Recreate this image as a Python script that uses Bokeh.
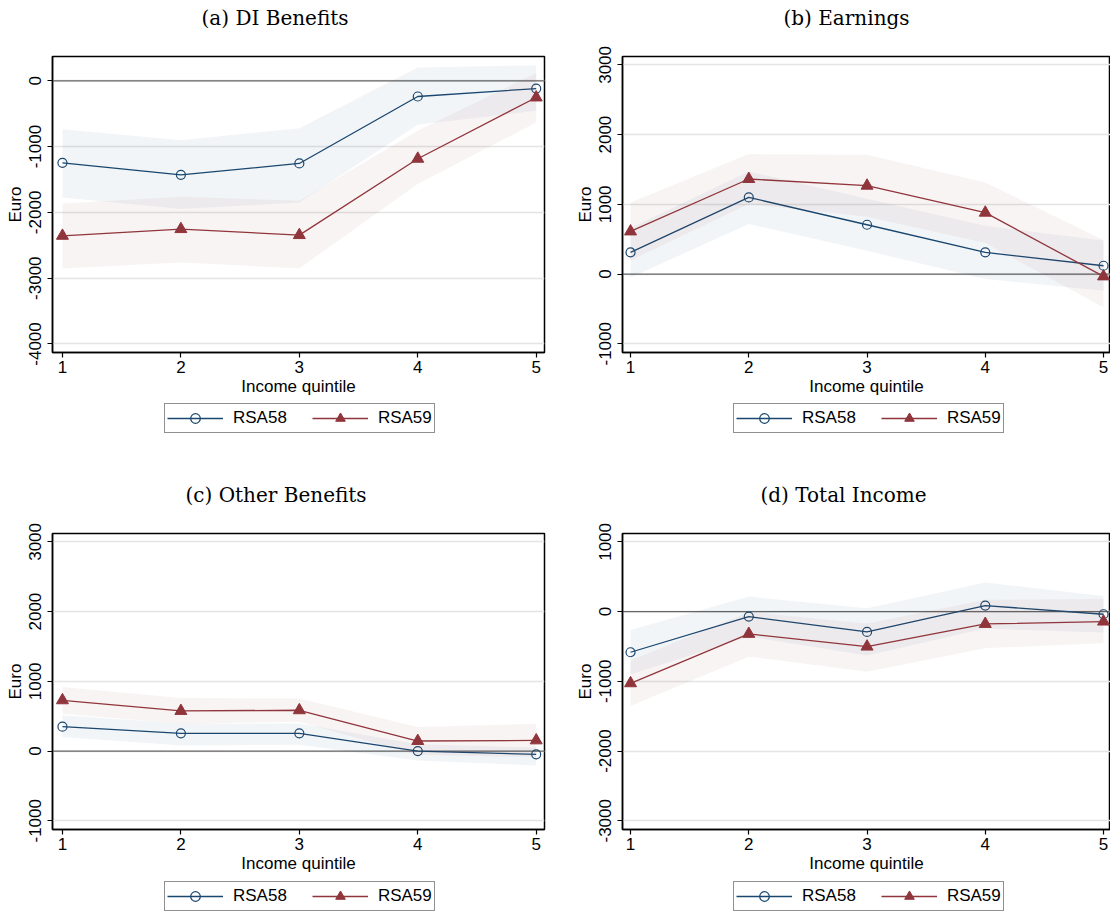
import math
from bokeh.plotting import figure
from bokeh.models import (Legend, LegendItem, Span, Range1d, ColumnDataSource, Title,
                          PrintfTickFormatter)
from bokeh.layouts import column, row
from bokeh.embed import file_html
from bokeh.resources import INLINE

NAVY = "#1a476f"
MAROON = "#90353b"
SANS = "Liberation Sans"
SERIF = "DejaVu Serif"

quintiles = [1, 2, 3, 4, 5]
series_names = ["RSA58", "RSA59"]

# (a) DI Benefits
di_58 = [-1246, -1429, -1256, -238, -117]
di_58_lo = [-1773, -1950, -1849, -669, -456]
di_58_hi = [-735, -902, -720, 203, 238]
di_59 = [-2356, -2254, -2345, -1185, -253]
di_59_lo = [-2852, -2761, -2852, -1570, -633]
di_59_hi = [-1864, -1763, -1824, -760, 120]

# (b) Earnings
ea_58 = [310, 1099, 707, 310, 119]
ea_58_lo = [-49, 717, 334, -72, -240]
ea_58_hi = [660, 1470, 1080, 692, 480]
ea_59 = [611, 1363, 1267, 880, -34]
ea_59_lo = [195, 1005, 823, 446, -479]
ea_59_hi = [1027, 1721, 1711, 1314, 488]

# (c) Other Benefits
ob_58 = [350, 254, 254, 0, -47]
ob_58_lo = [201, 81, 91, -134, -206]
ob_58_hi = [513, 394, 394, 98, 50]
ob_59 = [728, 575, 585, 144, 153]
ob_59_lo = [535, 390, 420, -57, -87]
ob_59_hi = [920, 762, 752, 345, 393]

# (d) Total Income
ti_58 = [-583, -72, -291, 86, -38]
ti_58_lo = [-903, -359, -630, -244, -301]
ti_58_hi = [-263, 215, 48, 416, 225]
ti_59 = [-1028, -320, -502, -177, -143]
ti_59_lo = [-1353, -646, -861, -525, -455]
ti_59_hi = [-700, -5, -170, 170, 180]

ticks_a = [-4000, -3000, -2000, -1000, 0]
ticks_b = [-1000, 0, 1000, 2000, 3000]
ticks_c = [-1000, 0, 1000, 2000, 3000]
ticks_d = [-3000, -2000, -1000, 0, 1000]


def style_58(p, src):
    l = p.line("x", "y", source=src, line_color=NAVY, line_width=1.3)
    s = p.scatter("x", "y", source=src, marker="circle", size=9,
                  fill_color=None, line_color=NAVY, line_width=1.2)
    return l, s


def style_59(p, src):
    l = p.line("x", "y", source=src, line_color=MAROON, line_width=1.3)
    s = p.scatter("x", "y", source=src, marker="triangle", size=12,
                  fill_color=MAROON, line_color=MAROON)
    return l, s


def panel(title, title_offset, y58, lo58, hi58, y59, lo59, hi59, yr, yticks, xr,
          width, height, bl, br, bt, bb):
    p = figure(width=width, height=height, x_range=Range1d(*xr), y_range=Range1d(*yr),
               output_backend="svg", toolbar_location=None,
               min_border_left=bl, min_border_right=br, min_border_top=bt, min_border_bottom=bb,
               background_fill_color="white", border_fill_color="white")
    p.title.text = ""
    # spacer between the title and the plot frame (closest to the frame)
    p.add_layout(Title(text=" ", text_font=SANS, text_font_size="12px", standoff=4), "above")
    p.add_layout(Title(text=title, align="left", vertical_align="top", offset=title_offset,
                       standoff=10, text_font=SERIF, text_font_size="20px",
                       text_font_style="normal", text_color="black"), "above")

    p.outline_line_color = "black"
    p.outline_line_width = 1.5
    p.xgrid.visible = False
    p.ygrid.grid_line_color = "#e4e4e4"
    p.ygrid.grid_line_width = 1.5

    p.xaxis.ticker = quintiles
    p.yaxis.ticker = yticks
    p.yaxis.formatter = PrintfTickFormatter(format="%d")
    for ax in (p.xaxis[0], p.yaxis[0]):
        ax.axis_line_color = "black"
        ax.axis_line_width = 1.5
        ax.major_tick_line_color = "black"
        ax.major_tick_line_width = 1.2
        ax.major_tick_out = 5
        ax.major_tick_in = 0
        ax.minor_tick_line_color = None
        ax.major_label_text_font = SANS
        ax.major_label_text_font_size = "17px"
        ax.major_label_text_color = "black"
        ax.axis_label_text_font = SANS
        ax.axis_label_text_font_size = "17px"
        ax.axis_label_text_font_style = "normal"
        ax.axis_label_text_color = "black"
    p.xaxis.axis_label = "Income quintile"
    p.xaxis.major_label_standoff = 3
    p.xaxis.axis_label_standoff = 1
    p.yaxis.axis_label = "Euro"
    p.yaxis.major_label_orientation = "vertical"
    p.yaxis.major_label_standoff = 6
    p.yaxis.axis_label_standoff = 2

    p.add_layout(Span(location=0, dimension="width", line_color="#666666",
                      line_width=1.3, level="underlay"))

    s58 = ColumnDataSource(dict(x=quintiles, y=y58, lo=lo58, hi=hi58))
    s59 = ColumnDataSource(dict(x=quintiles, y=y59, lo=lo59, hi=hi59))
    p.varea(x="x", y1="lo", y2="hi", source=s58, fill_color=NAVY, fill_alpha=0.055)
    style_58(p, s58)
    p.varea(x="x", y1="lo", y2="hi", source=s59, fill_color=MAROON, fill_alpha=0.055)
    style_59(p, s59)
    return p


def legend_fig(width, height, loc, y58, y59):
    # legend-only strip; its x range lies outside the data so only the legend shows
    p = figure(width=width, height=height, x_range=Range1d(10, 11), y_range=Range1d(0, 1),
               output_backend="svg", toolbar_location=None,
               x_axis_location=None, y_axis_location=None,
               min_border=0, min_border_left=0, min_border_right=0,
               min_border_top=0, min_border_bottom=0,
               background_fill_color="white", border_fill_color="white")
    p.outline_line_color = None
    p.grid.visible = False
    l58, m58 = style_58(p, ColumnDataSource(dict(x=quintiles, y=y58)))
    l59, m59 = style_59(p, ColumnDataSource(dict(x=quintiles, y=y59)))
    leg = Legend(items=[LegendItem(label=series_names[0], renderers=[l58, m58]),
                        LegendItem(label=series_names[1], renderers=[l59, m59])],
                 orientation="horizontal", location=loc, margin=0,
                 padding=2, spacing=25, label_standoff=10,
                 glyph_width=56, glyph_height=24, label_height=18,
                 label_text_font=SANS, label_text_font_size="17px",
                 label_text_color="black",
                 border_line_color="#222222", border_line_width=1.5,
                 background_fill_color="white", background_fill_alpha=1.0)
    p.add_layout(leg, "center")
    return p


XR_L = (0.916, 5.07)
XR_R = (0.932, 5.059)

pa = panel("(a) DI Benefits", 149, di_58, di_58_lo, di_58_hi, di_59, di_59_lo, di_59_hi,
           (-4130, 370), ticks_a, XR_L, 560, 402, 52, 16, 56, 50)
pb = panel("(b) Earnings", 161, ea_58, ea_58_lo, ea_58_hi, ea_59, ea_59_lo, ea_59_hi,
           (-1125, 3120), ticks_b, XR_R, 550, 402, 62, 0, 56, 50)
pc = panel("(c) Other Benefits", 133, ob_58, ob_58_lo, ob_58_hi, ob_59, ob_59_lo, ob_59_hi,
           (-1125, 3120), ticks_c, XR_L, 560, 402, 52, 16, 56, 50)
pd_ = panel("(d) Total Income", 138, ti_58, ti_58_lo, ti_58_hi, ti_59, ti_59_lo, ti_59_hi,
            (-3125, 1120), ticks_d, XR_R, 550, 402, 62, 0, 56, 50)

la = legend_fig(560, 75, (112, 44), di_58, di_59)
lb = legend_fig(550, 75, (111, 44), ea_58, ea_59)
lc = legend_fig(560, 32, (112, 0), ob_58, ob_59)
ld = legend_fig(550, 32, (111, 0), ti_58, ti_59)

layout = column(row(column(pa, la), column(pb, lb)),
                row(column(pc, lc), column(pd_, ld)))
open("out.html", "w").write(file_html(layout, INLINE))
